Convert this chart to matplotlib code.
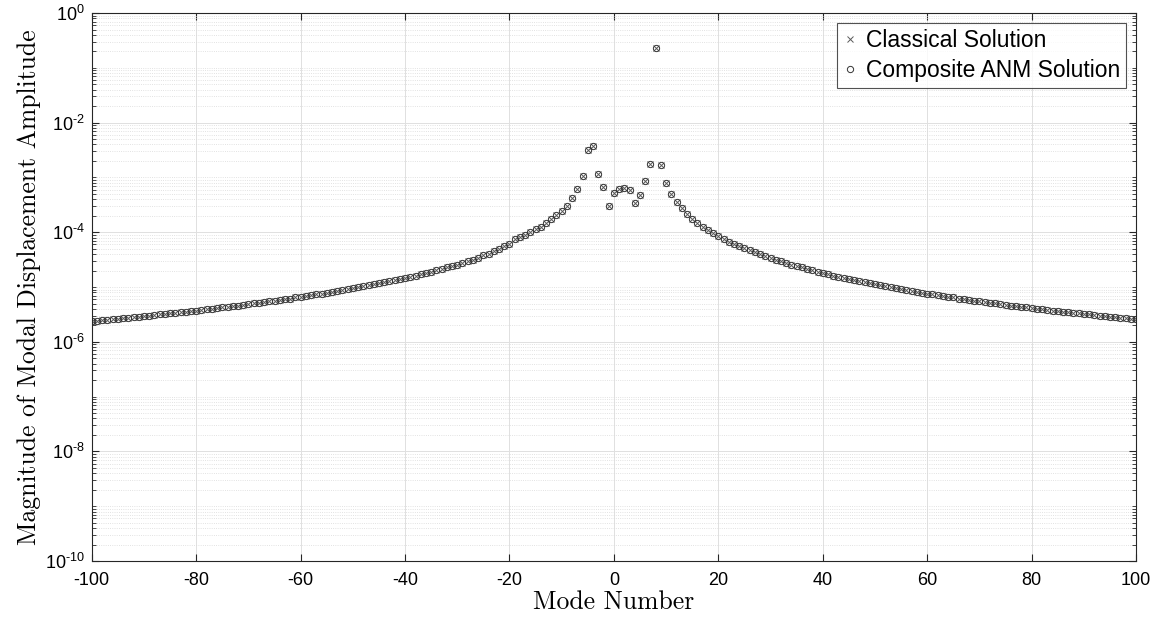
import numpy as np
import matplotlib
matplotlib.use("Agg")
import matplotlib.pyplot as plt
from matplotlib.ticker import LogLocator, FuncFormatter, MultipleLocator

# Mode numbers -100 ... 100
modes = np.arange(-100, 101)

# log10 of modal displacement amplitude
log_amp_neg = [  # modes -100 .. -1
    -5.62, -5.62, -5.61, -5.60, -5.59, -5.58, -5.57, -5.56, -5.55, -5.54,
    -5.53, -5.52, -5.51, -5.50, -5.49, -5.48, -5.47, -5.46, -5.45, -5.44,
    -5.43, -5.42, -5.41, -5.40, -5.39, -5.37, -5.36, -5.35, -5.34, -5.33,
    -5.31, -5.30, -5.29, -5.28, -5.26, -5.25, -5.24, -5.22, -5.21, -5.19,
    -5.18, -5.16, -5.15, -5.13, -5.12, -5.10, -5.09, -5.07, -5.06, -5.04,
    -5.02, -5.00, -4.99, -4.97, -4.95, -4.93, -4.91, -4.89, -4.87, -4.85,
    -4.83, -4.81, -4.79, -4.76, -4.74, -4.72, -4.69, -4.67, -4.64, -4.61,
    -4.59, -4.56, -4.53, -4.50, -4.47, -4.42, -4.39, -4.34, -4.31, -4.26,
    -4.21, -4.13, -4.09, -4.05, -4.00, -3.95, -3.90, -3.84, -3.76, -3.69,
    -3.62, -3.52, -3.38, -3.22, -2.98, -2.50, -2.43, -2.93, -3.18, -3.52,
]
log_amp_pos = [  # modes 0 .. 100
    -3.29,
    -3.21, -3.20, -3.23, -3.46, -3.32, -3.07, -2.76, -0.64, -2.78, -3.10,
    -3.30, -3.44, -3.56, -3.66, -3.75, -3.83, -3.90, -3.96, -4.02, -4.07,
    -4.12, -4.17, -4.21, -4.25, -4.29, -4.33, -4.36, -4.40, -4.43, -4.47,
    -4.50, -4.53, -4.56, -4.59, -4.61, -4.64, -4.67, -4.69, -4.72, -4.74,
    -4.76, -4.79, -4.81, -4.83, -4.85, -4.87, -4.89, -4.91, -4.93, -4.95,
    -4.97, -4.99, -5.00, -5.02, -5.04, -5.06, -5.07, -5.09, -5.10, -5.12,
    -5.13, -5.15, -5.16, -5.18, -5.19, -5.21, -5.22, -5.24, -5.25, -5.26,
    -5.28, -5.29, -5.30, -5.31, -5.33, -5.34, -5.35, -5.36, -5.37, -5.39,
    -5.40, -5.41, -5.42, -5.43, -5.44, -5.45, -5.46, -5.47, -5.48, -5.49,
    -5.50, -5.51, -5.52, -5.53, -5.54, -5.55, -5.56, -5.57, -5.58, -5.59,
]

# both solutions coincide at the resolution of the plot
classical = 10.0 ** np.array(log_amp_neg + log_amp_pos)
composite_anm = 10.0 ** np.array(log_amp_neg + log_amp_pos)

plt.rcParams["font.family"] = ["Liberation Sans", "DejaVu Sans"]
plt.rcParams["axes.unicode_minus"] = False
plt.rcParams["mathtext.fontset"] = "custom"
plt.rcParams["mathtext.rm"] = "Liberation Sans"
plt.rcParams["mathtext.it"] = "Liberation Sans:italic"
plt.rcParams["mathtext.bf"] = "Liberation Sans:bold"


def pow10_label(v, pos):
    e = int(round(np.log10(v)))
    if e < 0:
        return r"$10^{\text{-%d}}$" % (-e)
    return r"$10^{%d}$" % e


fig = plt.figure(figsize=(11.6, 6.21), dpi=100)
ax = fig.add_axes([0.0791, 0.0966, 0.9003, 0.8824])

ax.plot(modes, classical, linestyle="none", marker="x", markersize=4.5,
        markeredgewidth=0.7, color="0.35", label="Classical Solution")
ax.plot(modes, composite_anm, linestyle="none", marker="o", markersize=4.5,
        markeredgewidth=0.7, markerfacecolor="none", color="0.2",
        label="Composite ANM Solution")

ax.set_yscale("log")
ax.set_xlim(-100, 100)
ax.set_ylim(1e-10, 1e0)
ax.xaxis.set_major_locator(MultipleLocator(20))
ax.yaxis.set_major_locator(LogLocator(base=100.0, numticks=10))
ax.yaxis.set_major_formatter(FuncFormatter(pow10_label))
ax.yaxis.set_minor_locator(LogLocator(base=10.0, subs=np.arange(1, 10), numticks=100))
ax.yaxis.set_minor_formatter(plt.NullFormatter())

ax.grid(True, which="major", color="0.88", linewidth=0.7)
ax.grid(True, which="minor", axis="y", color="0.85", linewidth=0.6, linestyle=":")
ax.set_axisbelow(True)

for s in ax.spines.values():
    s.set_color("0.15")
    s.set_linewidth(0.8)
ax.tick_params(which="both", direction="in", top=True, right=True,
               colors="0.15", labelcolor="black", labelsize=13)
ax.tick_params(which="major", length=5)
ax.tick_params(which="minor", length=3)
ax.tick_params(axis="x", pad=8)
ax.tick_params(axis="y", pad=5)

ax.set_xlabel("Mode Number", family="cmr10", fontsize=18.5, labelpad=1)
ax.set_ylabel("Magnitude of Modal Displacement Amplitude", family="cmr10",
              fontsize=18.5, labelpad=3)

leg = ax.legend(loc="upper right", fontsize=16.5, frameon=True, fancybox=False,
                handlelength=0.6, handletextpad=0.4, borderpad=0.25,
                labelspacing=0.3, borderaxespad=0.45)
leg.get_frame().set_edgecolor("0.15")
leg.get_frame().set_linewidth(0.8)

fig.savefig("out.png", dpi=100)
